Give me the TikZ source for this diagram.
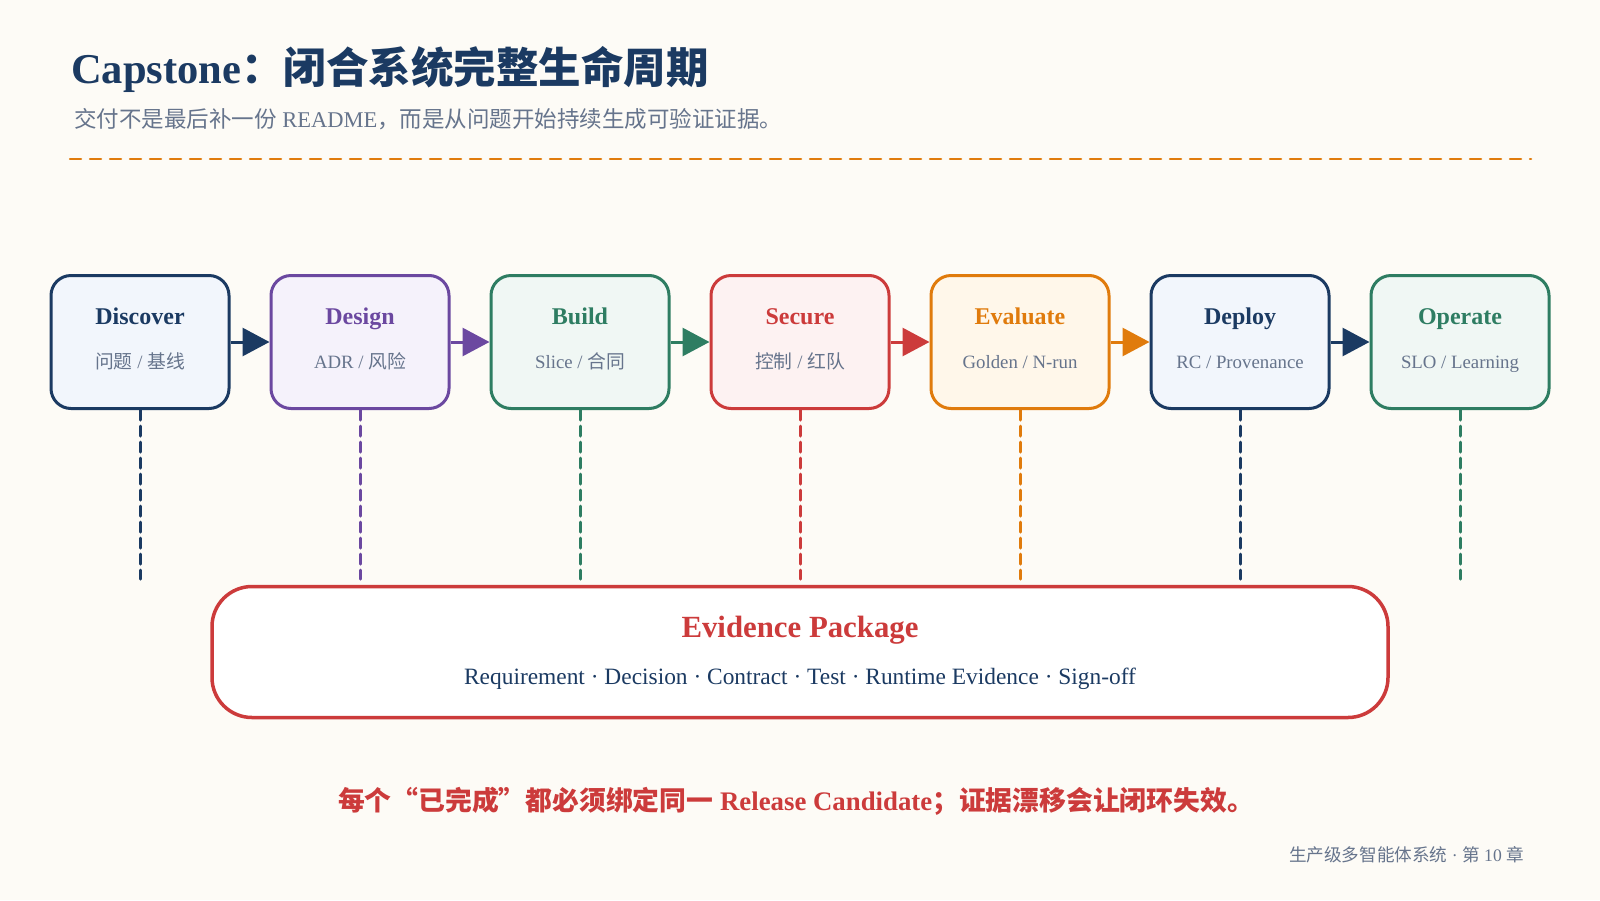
\documentclass[tikz,border=0pt]{standalone}
\usepackage{fontspec}
\setmainfont{Liberation Serif}
\newfontfamily\cjk{Noto Sans CJK SC}
\usetikzlibrary{arrows.meta}
\definecolor{bg}{HTML}{FDFBF6}
\definecolor{cnavy}{HTML}{1B3A62}
\definecolor{fnavy}{HTML}{F2F6FC}
\definecolor{cpurple}{HTML}{6B48A0}
\definecolor{fpurple}{HTML}{F5F2FB}
\definecolor{cgreen}{HTML}{2E7D62}
\definecolor{fgreen}{HTML}{F0F7F4}
\definecolor{cred}{HTML}{CC3B3B}
\definecolor{fred}{HTML}{FDF2F2}
\definecolor{corange}{HTML}{E07B0C}
\definecolor{forange}{HTML}{FFF7EA}
\definecolor{cgrey}{HTML}{66748C}
\tikzset{
  stagebox/.style={draw, rounded corners=20pt, line width=3pt, minimum width=178pt, minimum height=133pt, inner sep=0pt},
  stagetitle/.style={anchor=base, inner sep=0pt, font=\fontsize{24}{28}\selectfont\bfseries},
  stagesub/.style={anchor=base, inner sep=0pt, text=cgrey, font=\fontsize{18.8}{22}\selectfont},
  flow/.style={line width=3pt, -{Triangle[length=27pt, width=28pt]}},
  drop/.style={line width=3pt, line cap=round, dash pattern=on 10pt off 6pt},
}
\begin{document}
\begin{tikzpicture}[x=1pt,y=-1pt]
\fill[bg] (0,0) rectangle (1600,900);
\useasboundingbox (0,0) rectangle (1600,900);

\node[anchor=base west, inner sep=0pt, text=cnavy, font=\fontsize{42.5}{48}\selectfont\bfseries] (title) at (71,83) {Capstone{\cjk ：闭合系统完整生命周期}};
\node[anchor=base west, inner sep=0pt, text=cgrey, font=\fontsize{22.5}{26}\selectfont] (subtitle) at (74,127) {{\cjk 交付不是最后补一份} README{\cjk ，而是从问题开始持续生成可验证证据。}};
\draw[corange, line width=2.5pt, line cap=round, dash pattern=on 11pt off 9pt] (70,159) -- (1531,159);

\foreach \i/\nm/\sub/\c in {1/Discover/{{\cjk 问题} / {\cjk 基线}}/navy, 2/Design/{ADR / {\cjk 风险}}/purple, 3/Build/{Slice / {\cjk 合同}}/green, 4/Secure/{{\cjk 控制} / {\cjk 红队}}/red, 5/Evaluate/{Golden / N-run}/orange, 6/Deploy/{RC / Provenance}/navy, 7/Operate/{SLO / Learning}/green}{
  \node[stagebox, draw=c\c, fill=f\c] (b\i) at ({140+220*(\i-1)},342) {};
  \node[stagetitle, text=c\c] (t\i) at ({140+220*(\i-1)},324) {\nm};
  \node[stagesub] (s\i) at ({140+220*(\i-1)},368) {\sub};
  \coordinate (v\i) at ({140+220*(\i-1)},579);
  \draw[drop, c\c] (b\i.south) -- (v\i);
}
\draw[flow, cnavy] (b1.east) -- (b2.west);
\draw[flow, cpurple] (b2.east) -- (b3.west);
\draw[flow, cgreen] (b3.east) -- (b4.west);
\draw[flow, cred] (b4.east) -- (b5.west);
\draw[flow, corange] (b5.east) -- (b6.west);
\draw[flow, cnavy] (b6.east) -- (b7.west);

\node[draw=cred, line width=3.5pt, fill=white, rounded corners=40pt, minimum width=1176pt, minimum height=131pt, inner sep=0pt] (ev) at (800,652) {};
\node[anchor=base, inner sep=0pt, text=cred, font=\fontsize{30.8}{36}\selectfont\bfseries] (evt) at (800,637) {Evidence Package};
\node[anchor=base, inner sep=0pt, text=cnavy, font=\fontsize{23.4}{27}\selectfont] (evs) at (800,684) {Requirement · Decision · Contract · Test · Runtime Evidence · Sign-off};

\node[anchor=base, inner sep=0pt, text=cred, font=\fontsize{26.8}{31}\selectfont\bfseries] (note) at (796,810) {{\cjk 每个“已完成”都必须绑定同一} Release Candidate{\cjk ；证据漂移会让闭环失效。}};
\node[anchor=base east, inner sep=0pt, text=cgrey, font=\fontsize{17.6}{21}\selectfont] (foot) at (1524,861) {{\cjk 生产级多智能体系统} · {\cjk 第} 10 {\cjk 章}};
\end{tikzpicture}
\end{document}
